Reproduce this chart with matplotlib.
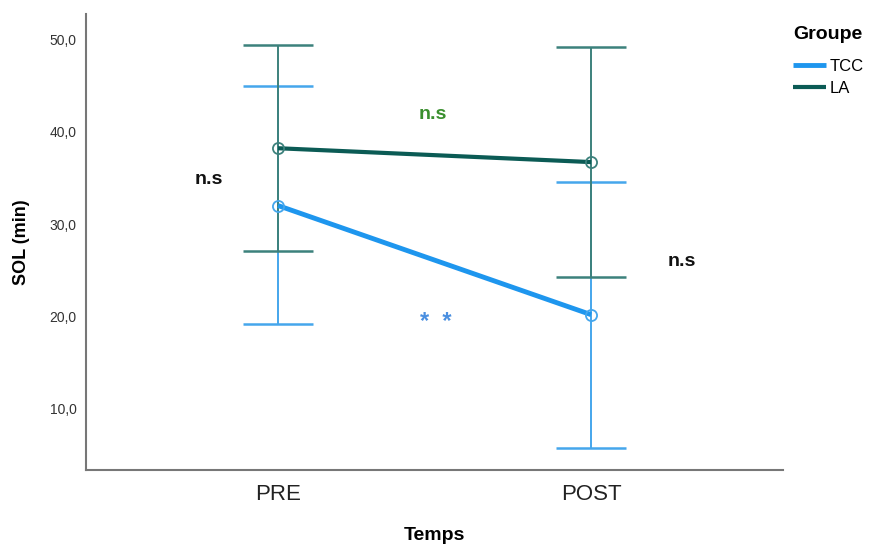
import numpy as np
import matplotlib
matplotlib.use("Agg")
import matplotlib.pyplot as plt

plt.rcParams['font.family'] = ['Liberation Sans', 'DejaVu Sans']

# data
temps = ["PRE", "POST"]
tcc_mean = [32.0, 20.2]
tcc_low = [19.2, 5.8]
tcc_high = [44.9, 34.5]
la_mean = [38.2, 36.7]
la_low = [27.1, 24.3]
la_high = [49.4, 49.1]

tcc_line = '#1E96EE'
tcc_bar = '#45A6EC'
la_line = '#0B5B55'
la_bar = '#3C817C'

fig = plt.figure(figsize=(8.7, 5.44), dpi=100)
ax = fig.add_axes([0.099, 0.136, 0.801, 0.838])

x = np.arange(len(temps))

def draw_group(mean, low, high, line_col, bar_col, lw, label):
    mean = np.array(mean)
    yerr = [mean - np.array(low), np.array(high) - mean]
    ax.errorbar(x, mean, yerr=yerr, fmt='none', ecolor=bar_col,
                elinewidth=1.4, capsize=25, capthick=1.8, zorder=2)
    ax.plot(x, mean, color=line_col, lw=lw, zorder=3, label=label,
            solid_capstyle='butt')
    ax.plot(x, mean, 'o', mfc='none', mec=bar_col, ms=8, mew=1.3, zorder=4)

draw_group(tcc_mean, tcc_low, tcc_high, tcc_line, tcc_bar, 3.5, "TCC")
draw_group(la_mean, la_low, la_high, la_line, la_bar, 3.0, "LA")

ax.set_xlim(-0.613, 1.613)
ax.set_ylim(3.4, 52.7)
ax.set_xticks(x)
ax.set_xticklabels(temps, fontsize=16, color='#222222')
ax.set_yticks([10, 20, 30, 40, 50])
ax.set_yticklabels(["10,0", "20,0", "30,0", "40,0", "50,0"], fontsize=10,
                   color='#333333')
ax.tick_params(axis='y', length=0, pad=7)
ax.tick_params(axis='x', length=0, pad=10)

for side in ['top', 'right']:
    ax.spines[side].set_visible(False)
for side in ['left', 'bottom']:
    ax.spines[side].set_color('#777777')
    ax.spines[side].set_linewidth(1.5)

ax.set_ylabel("SOL (min)", fontsize=13, fontweight='bold', labelpad=14)
ax.set_xlabel("Temps", fontsize=14, fontweight='bold', labelpad=16)

# significance notes
ax.text(-0.22, 34.8, "n.s", fontsize=14, fontweight='bold', color='#111111',
        ha='center', va='center')
ax.text(0.495, 41.9, "n.s", fontsize=14, fontweight='bold', color='#3A8F2E',
        ha='center', va='center')
ax.text(1.29, 26.0, "n.s", fontsize=14, fontweight='bold', color='#111111',
        ha='center', va='center')
ax.text(0.505, 19.3, "*  *", fontsize=17, fontweight='bold', color='#4A8FE0',
        ha='center', va='center')

leg = ax.legend(loc='upper left', bbox_to_anchor=(1.0, 0.995), frameon=False,
                title="Groupe", fontsize=12, handlelength=2.0,
                handletextpad=0.2, labelspacing=0.45, borderaxespad=0.2)
leg.get_title().set_fontweight('bold')
leg.get_title().set_fontsize(14)
leg._legend_box.align = "left"
leg._legend_box.sep = 11

fig.savefig("out.png", dpi=100)
